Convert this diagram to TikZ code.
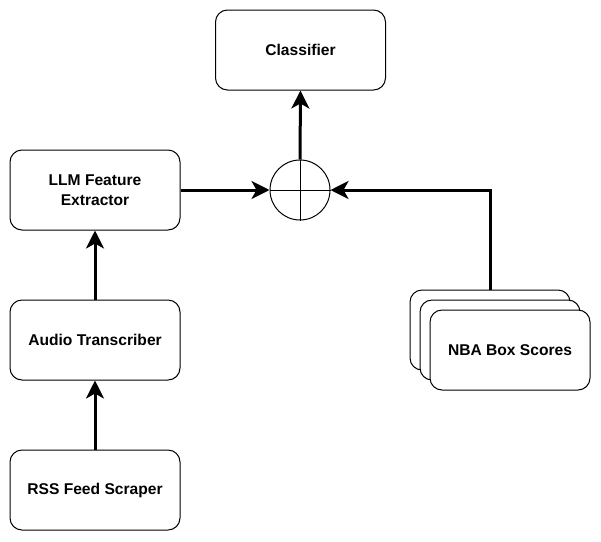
\documentclass[tikz,border=0pt]{standalone}
\usepackage{fontspec}
\setmainfont{Liberation Sans}
\usetikzlibrary{arrows.meta,calc}
\begin{document}
\begin{tikzpicture}[x=1pt,y=-1pt,
  box/.style={draw=black,line width=1pt,fill=white,rounded corners=12pt,minimum width=170pt,minimum height=80pt,inner sep=0pt,align=center,font=\bfseries\fontsize{15.6}{20}\selectfont},
  stackbox/.style={box,minimum width=160pt},
  conn/.style={line width=3pt,-{Stealth[length=18pt,width=18pt,inset=5pt]}},
  orcirc/.style={draw=black,line width=1pt,circle,minimum size=60pt,inner sep=0pt}
]
\useasboundingbox (0,0) rectangle (601,541);
\node[box] (cls) at (300.5,50) {Classifier};
\node[box] (llm) at (95,190) {LLM Feature\\Extractor};
\node[box] (aud) at (95,340) {Audio Transcriber};
\node[box] (rss) at (95,490) {RSS Feed Scraper};
\node[stackbox] (nba3) at (490,330) {};
\node[stackbox] (nba2) at (500,340) {};
\node[stackbox] (nba) at (510,350) {NBA Box Scores};
\node[orcirc] (or) at (300,190) {};
\draw[line width=1pt] (or.north) -- (or.south) (or.west) -- (or.east);
\draw[conn] (rss.north) -- (aud.south);
\draw[conn] (aud.north) -- (llm.south);
\draw[conn] (llm.east) -- (or.west);
\draw[conn] (or.north) -- (cls.south);
\draw[conn] (nba3.north) |- (or.east);
\end{tikzpicture}
\end{document}
